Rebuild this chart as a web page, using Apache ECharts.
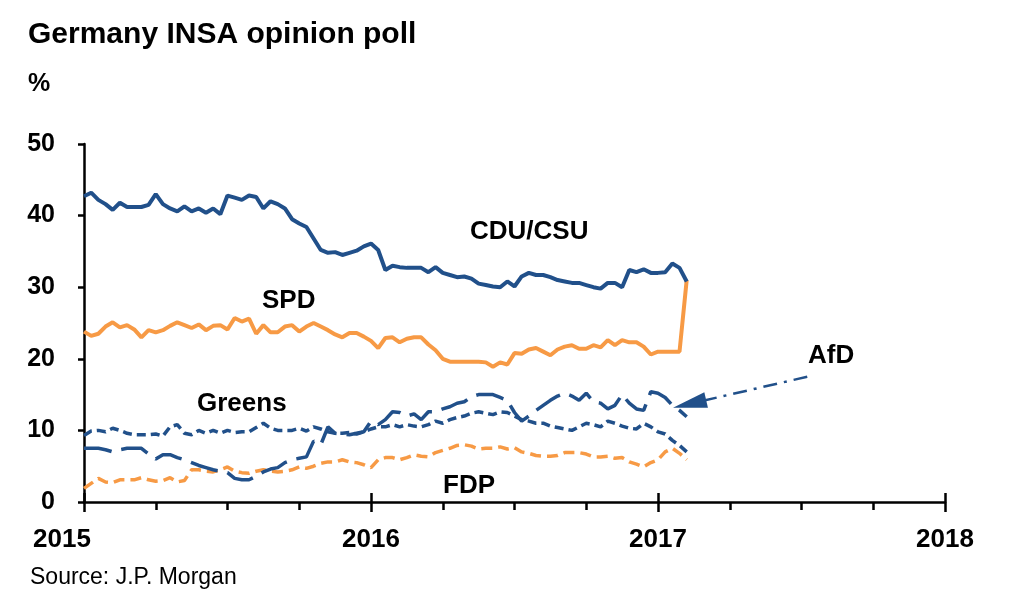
<!DOCTYPE html>
<html>
<head>
<meta charset="utf-8">
<script src="https://cdn.jsdelivr.net/npm/echarts@6/dist/echarts.min.js"></script>
<style>
html,body{margin:0;padding:0;background:#fff;}
#chart{width:1024px;height:611px;}
</style>
</head>
<body>
<div id="chart"></div>
<script>
const weeks = [2015.000,2015.025,2015.050,2015.075,2015.100,2015.125,2015.150,2015.175,2015.200,2015.225,
2015.250,2015.275,2015.300,2015.325,2015.350,2015.375,2015.400,2015.425,2015.450,2015.475,
2015.500,2015.525,2015.550,2015.575,2015.600,2015.625,2015.650,2015.675,2015.700,2015.725,
2015.750,2015.775,2015.800,2015.825,2015.850,2015.875,2015.900,2015.925,2015.950,2015.975,
2016.000,2016.025,2016.050,2016.075,2016.100,2016.125,2016.150,2016.175,2016.200,2016.225,
2016.250,2016.275,2016.300,2016.325,2016.350,2016.375,2016.400,2016.425,2016.450,2016.475,
2016.500,2016.525,2016.550,2016.575,2016.600,2016.625,2016.650,2016.675,2016.700,2016.725,
2016.750,2016.775,2016.800,2016.825,2016.850,2016.875,2016.900,2016.925,2016.950,2016.975,
2017.000,2017.025,2017.050,2017.075,2017.100];

const cdu = [42.7,43.2,42.2,41.6,40.8,41.8,41.2,41.2,41.2,41.5,
43.0,41.6,41.0,40.6,41.3,40.6,41.0,40.4,41.0,40.2,
42.8,42.5,42.2,42.8,42.6,41.0,42.0,41.6,41.0,39.5,
38.9,38.4,36.8,35.2,34.8,34.9,34.5,34.8,35.1,35.7,
36.1,35.2,32.4,33.0,32.8,32.7,32.7,32.7,32.1,32.8,
32.0,31.7,31.4,31.5,31.2,30.5,30.3,30.1,30.0,30.8,
30.1,31.5,32.0,31.7,31.7,31.4,31.0,30.8,30.6,30.6,
30.3,30.0,29.8,30.6,30.6,30.0,32.4,32.1,32.5,32.0,
32.0,32.1,33.3,32.7,30.8];

const spd = [23.8,23.2,23.5,24.5,25.1,24.4,24.7,24.1,23.0,24.0,
23.7,24.0,24.6,25.1,24.7,24.3,24.8,24.0,24.6,24.7,
24.1,25.7,25.2,25.6,23.5,24.7,23.7,23.7,24.5,24.7,
23.8,24.5,25.0,24.5,24.0,23.4,23.0,23.6,23.6,23.1,
22.5,21.5,22.9,23.0,22.3,22.8,23.0,23.0,22.0,21.2,
20.0,19.6,19.6,19.6,19.6,19.6,19.5,18.9,19.5,19.2,
20.8,20.7,21.3,21.5,21.0,20.5,21.3,21.7,21.9,21.4,
21.4,21.9,21.6,22.6,21.9,22.6,22.3,22.3,21.7,20.6,
21.0,21.0,21.0,21.0,31.0];

const greens = [9.3,9.9,10.0,9.8,10.3,10.0,9.6,9.4,9.4,9.4,
9.5,9.2,10.5,10.8,9.6,9.4,10.0,9.6,10.0,9.6,
10.0,9.7,9.8,9.8,10.4,11.0,10.3,10.0,10.0,10.0,
10.3,9.9,10.5,10.2,9.8,9.6,9.6,9.7,9.5,9.8,
10.2,10.5,10.5,10.8,10.5,10.8,10.6,10.5,10.8,11.3,
11.0,11.5,11.8,12.0,12.4,12.6,12.4,12.2,12.6,12.5,
12.0,11.5,11.3,11.0,11.0,10.6,10.4,10.2,10.0,10.5,
11.0,10.8,10.5,11.3,11.0,10.6,10.3,10.2,11.0,10.5,
9.8,9.5,8.6,7.9,7.0];

const afd = [7.5,7.5,7.5,7.3,7.0,7.3,7.5,7.5,7.5,6.7,
6.0,6.6,6.6,6.2,5.9,5.5,5.1,4.8,4.5,4.3,
4.1,3.3,3.1,3.1,3.6,4.2,4.6,4.8,5.5,5.9,
6.1,6.3,8.5,8.0,10.5,9.6,9.5,9.4,9.6,9.8,
11.3,10.8,11.5,12.6,12.5,12.0,12.3,11.5,12.6,12.6,
13.0,13.3,13.8,14.0,14.7,15.0,15.0,15.0,14.6,14.2,
12.5,11.3,12.0,12.8,13.5,14.2,14.8,15.2,14.8,14.2,
15.2,14.0,13.8,13.0,13.5,15.0,13.8,13.0,12.8,15.4,
15.2,14.6,13.5,12.8,11.9];

const fdp = [1.9,2.6,3.3,2.8,2.7,3.1,3.1,3.1,3.4,3.1,
2.9,3.0,3.4,2.8,3.0,4.5,4.5,4.3,4.2,4.5,
4.9,4.3,4.1,4.0,4.3,4.5,4.3,4.2,4.3,4.5,
4.9,4.7,5.0,5.4,5.6,5.6,5.9,5.6,5.5,5.2,
4.8,5.9,6.2,6.2,5.9,6.2,6.6,6.4,6.3,6.9,
7.2,7.5,7.9,8.0,7.8,7.4,7.5,7.5,7.7,7.4,
7.6,7.0,6.8,6.5,6.4,6.4,6.5,6.9,6.9,6.9,
6.7,6.3,6.3,6.4,6.1,6.2,5.6,5.3,4.9,5.5,
5.9,7.0,7.5,6.8,5.9];

const afdArrow = [[2017.52, 17.5], [2017.11, 13.7]];

const BLUE = '#21508a';
const ORANGE = '#f79a45';
const FONT = '"Liberation Sans", Arial, sans-serif';

function pairs(vals) { return weeks.map((t, i) => [t, vals[i]]); }

const chart = echarts.init(document.getElementById('chart'), null, {renderer: 'canvas'});
chart.setOption({
  animation: false,
  backgroundColor: '#fff',
  grid: {left: 84, right: 79, top: 144, bottom: 109, containLabel: false},
  xAxis: [{
    type: 'value', min: 2015, max: 2018, interval: 1,
    axisLine: {show: true, onZero: false, lineStyle: {color: '#000', width: 2.5}},
    axisTick: {show: true, length: 10, lineStyle: {color: '#000', width: 2.5}},
    minorTick: {show: true, splitNumber: 4, length: 8, lineStyle: {color: '#000', width: 2.5}},
    splitLine: {show: false},
    axisLabel: {color: '#000', fontFamily: FONT, fontWeight: 'bold', fontSize: 26, margin: 25,
      formatter: v => (Math.round(v) === 2015 ? '{first|2015}' : String(Math.round(v))),
      rich: {first: {fontFamily: FONT, fontWeight: 'bold', fontSize: 26, color: '#000', padding: [0, 44, 0, 0]}}}
  }, {
    type: 'value', min: 2015, max: 2018, interval: 1, position: 'bottom',
    axisLine: {show: false},
    axisTick: {show: true, inside: true, length: 9, lineStyle: {color: '#000', width: 2.5}},
    splitLine: {show: false},
    axisLabel: {show: false}
  }],
  yAxis: {
    type: 'value', min: 0, max: 50, interval: 10,
    axisLine: {show: true, lineStyle: {color: '#000', width: 2.5}},
    axisTick: {show: true, length: 6, lineStyle: {color: '#000', width: 2.5}},
    splitLine: {show: false},
    axisLabel: {color: '#000', fontFamily: FONT, fontWeight: 'bold', fontSize: 25, margin: 29}
  },
  series: [
    {name: 'CDU/CSU', type: 'line', data: pairs(cdu), showSymbol: false, symbol: 'none',
      lineStyle: {color: BLUE, width: 4}, z: 5},
    {name: 'SPD', type: 'line', data: pairs(spd), showSymbol: false, symbol: 'none',
      lineStyle: {color: ORANGE, width: 4}, z: 4},
    {name: 'Greens', type: 'line', data: pairs(greens), showSymbol: false, symbol: 'none',
      lineStyle: {color: BLUE, width: 3.5, type: [9, 5]}, z: 3},
    {name: 'AfD', type: 'line', data: pairs(afd), showSymbol: false, symbol: 'none',
      lineStyle: {color: BLUE, width: 3.5, type: [28, 10]}, z: 3,
      markLine: {
        silent: true, animation: false,
        symbol: ['none', 'triangle'], symbolSize: [16, 34],
        label: {show: false},
        lineStyle: {color: BLUE, width: 2.5, type: [14, 7, 3, 7]},
        data: [[{coord: afdArrow[0]}, {coord: afdArrow[1]}]]
      }},
    {name: 'FDP', type: 'line', data: pairs(fdp), showSymbol: false, symbol: 'none',
      lineStyle: {color: ORANGE, width: 3.5, type: [11, 6]}, z: 2}
  ],
  graphic: [
    {type: 'text', left: 28, top: 20, style: {text: 'Germany INSA opinion poll', fontFamily: FONT, fontWeight: 'bold', fontSize: 30, fill: '#000'}},
    {type: 'text', left: 28, top: 72, style: {text: '%', fontFamily: FONT, fontWeight: 'bold', fontSize: 25, fill: '#000'}},
    {type: 'text', left: 470, top: 219, style: {text: 'CDU/CSU', fontFamily: FONT, fontWeight: 'bold', fontSize: 26, fill: '#000'}},
    {type: 'text', left: 262, top: 288, style: {text: 'SPD', fontFamily: FONT, fontWeight: 'bold', fontSize: 26, fill: '#000'}},
    {type: 'text', left: 197, top: 391, style: {text: 'Greens', fontFamily: FONT, fontWeight: 'bold', fontSize: 26, fill: '#000'}},
    {type: 'text', left: 443, top: 473, style: {text: 'FDP', fontFamily: FONT, fontWeight: 'bold', fontSize: 26, fill: '#000'}},
    {type: 'text', left: 808, top: 343, style: {text: 'AfD', fontFamily: FONT, fontWeight: 'bold', fontSize: 26, fill: '#000'}},
    {type: 'text', left: 30, top: 566, style: {text: 'Source: J.P. Morgan', fontFamily: FONT, fontSize: 23, fill: '#000'}}
  ]
});
</script>
</body>
</html>
